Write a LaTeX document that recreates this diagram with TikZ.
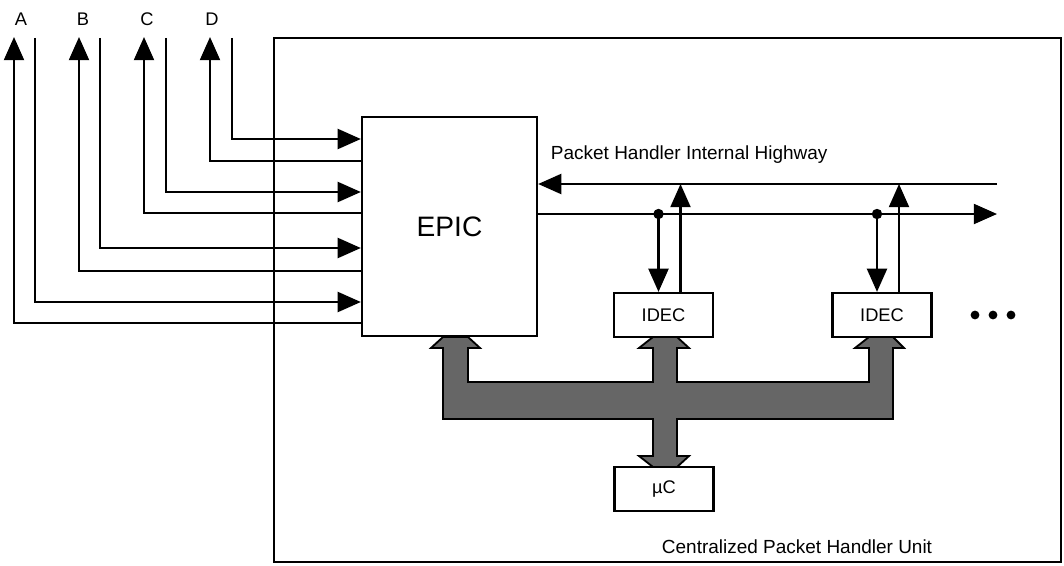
\documentclass[tikz,border=0pt]{standalone}
\usepackage{fontspec}
\setmainfont{Liberation Sans}
\usetikzlibrary{arrows.meta,calc}

\begin{document}
\begin{tikzpicture}[
  x=0.025cm, y=-0.025cm,
  sig/.style={line width=1.6pt, >={Triangle[length=0.58cm,width=0.5cm]}},
  box/.style={draw, line width=1.6pt, fill=white, inner sep=0pt},
  unit/.style={box, minimum width=2.475cm, minimum height=1.1cm,
               font=\fontsize{13}{15}\selectfont},
  bus/.style={draw, line width=1.3pt, fill=black!60},
  lbl/.style={font=\fontsize{13.5}{16}\selectfont},
]
  \useasboundingbox (0,0) rectangle (1064,565);

  % centralized packet handler unit
  \draw[line width=1.2pt] (274,38) rectangle (1061,562);
  \node[lbl] (cphu) at (797,547) {Centralized Packet Handler Unit};

  \node[box, minimum width=4.375cm, minimum height=5.475cm,
        font=\fontsize{20}{24}\selectfont] (epic) at (449.5,226.5) {EPIC};
  \node[unit] (idecA) at (663.5,315) {IDEC};
  \node[unit] (idecB) at (882,315) {IDEC};
  \node[unit] (uc) at (664,489) {µC};

  % lines A to D
  \foreach \name/\xl/\xo/\xi/\yo/\yi in {A/21/14/35/323/302, B/83/79/100/271/248,
                                         C/147/144/166/213/192, D/212/210/232/161/139} {
    \coordinate (\name out) at (\xo,37);
    \coordinate (\name in) at (\xi,38);
    \node[font=\fontsize{13}{15}\selectfont] (\name lbl) at (\xl,19.5) {\name};
    \draw[sig,->] (epic.west |- 0,\yo) -| (\name out);
    \draw[sig,->] (\name in) |- (epic.west |- 0,\yi);
  }

  % internal highway
  \coordinate (hw in) at (997,184);
  \coordinate (hw out) at (997,214);
  \draw[sig,->] (hw in) -- (epic.east |- hw in);
  \draw[sig,->] (epic.east |- hw out) -- (hw out);
  \node[lbl, anchor=west] (hw lbl) at (546,155) {Packet Handler Internal Highway};

  \foreach \u in {idecA, idecB} {
    \coordinate (\u rx) at ($(\u.north)+(-5,0)$);
    \coordinate (\u tx) at ($(\u.north)+(17,0)$);
    \fill (\u rx |- hw out) circle (0.13cm);
    \draw[sig,->] (\u rx |- hw out) -- (\u rx);
    \draw[sig,->] (\u tx) -- (\u tx |- hw in);
  }

  % processor bus
  \draw[bus] (443,337) -- (468,337) -- (480,348) -- (468,348) -- (468,382)
    -- (653,382) -- (653,348) -- (639,348) -- (653,337) -- (677,337)
    -- (689,348) -- (677,348) -- (677,382) -- (869,382) -- (869,348)
    -- (855,348) -- (869,337) -- (893,337) -- (904,348) -- (893,348)
    -- (893,419) -- (677,419) -- (677,456) -- (689,456) -- (677,467)
    -- (653,467) -- (639,456) -- (653,456) -- (653,419) -- (443,419)
    -- (443,348) -- (431,348) -- cycle;

  % more units
  \foreach \x in {975,993,1011}
    \fill (\x,315) circle (0.11cm);
\end{tikzpicture}
\end{document}
